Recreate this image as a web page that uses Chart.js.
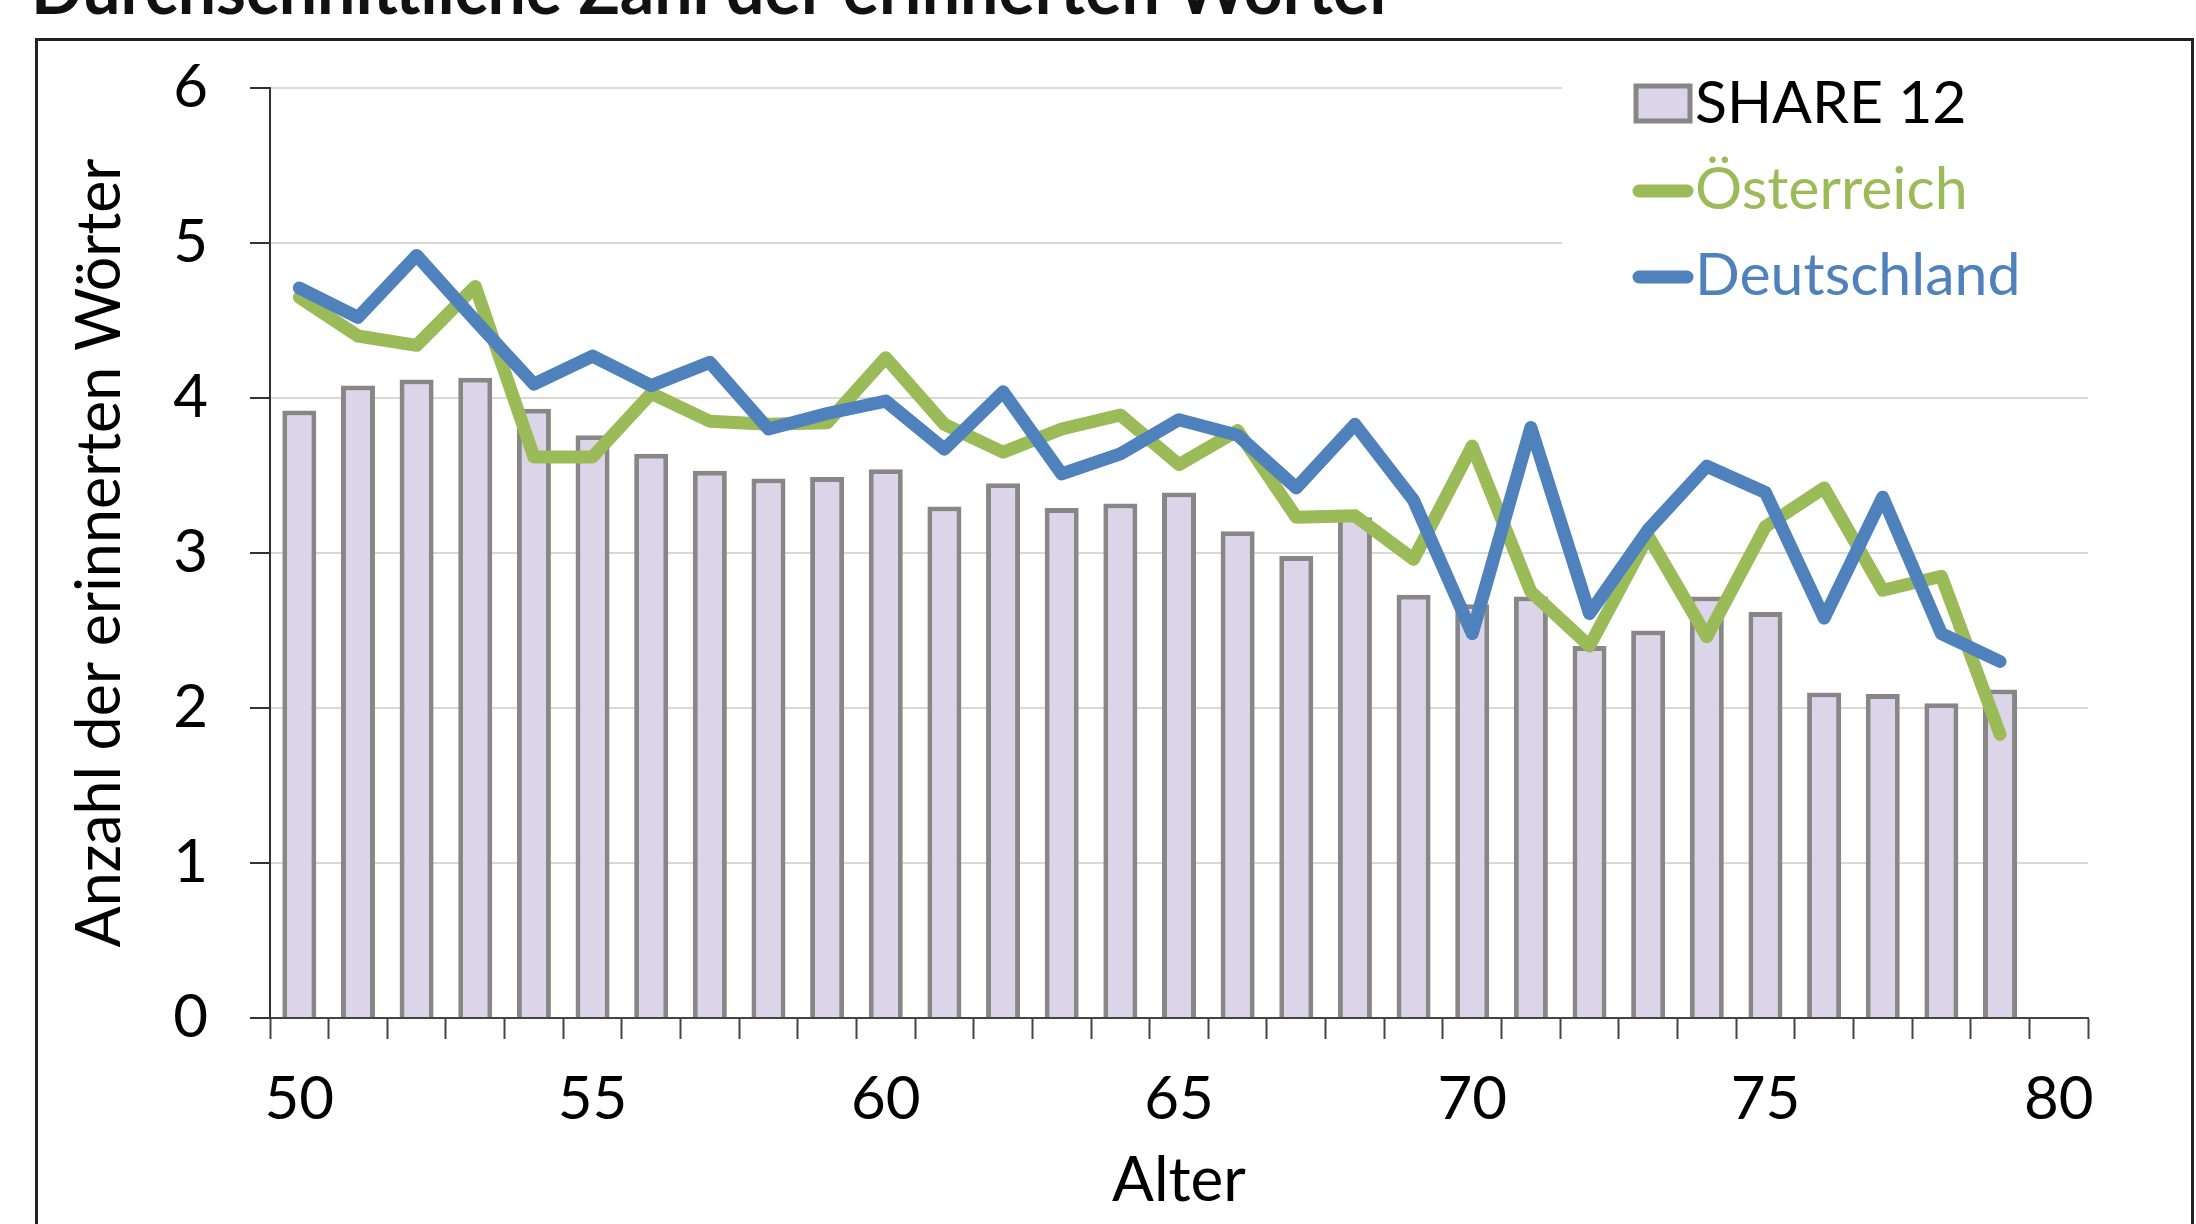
<!DOCTYPE html>
<html>
<head>
<meta charset="utf-8">
<script src="https://cdn.jsdelivr.net/npm/chart.js@4.4.0/dist/chart.umd.min.js"></script>
<style>
  html, body { margin: 0; padding: 0; background: #fff; }
</style>
</head>
<body>
<canvas id="chart" width="2196" height="1224"></canvas>
<script>
const chartTitle = 'Durchschnittliche Zahl der erinnerten Wörter';
const xTitle = 'Alter';
const yTitle = 'Anzahl der erinnerten Wörter';

// ages 50..80, the last one has no data
const ages = ['50', '51', '52', '53', '54', '55', '56', '57', '58', '59',
              '60', '61', '62', '63', '64', '65', '66', '67', '68', '69',
              '70', '71', '72', '73', '74', '75', '76', '77', '78', '79', '80'];

const share12 = [3.92, 4.08, 4.12, 4.13, 3.93, 3.76, 3.64, 3.53, 3.48, 3.49,
                 3.54, 3.30, 3.45, 3.29, 3.32, 3.39, 3.14, 2.98, 3.23, 2.73,
                 2.67, 2.72, 2.40, 2.50, 2.72, 2.62, 2.10, 2.09, 2.03, 2.12, null];

const oesterreich = [4.65, 4.40, 4.34, 4.72, 3.62, 3.62, 4.03, 3.85, 3.83, 3.84,
                     4.26, 3.83, 3.65, 3.80, 3.89, 3.57, 3.79, 3.23, 3.24, 2.96,
                     3.69, 2.75, 2.40, 3.11, 2.46, 3.17, 3.42, 2.76, 2.85, 1.83, null];

const deutschland = [4.71, 4.52, 4.92, 4.50, 4.09, 4.27, 4.08, 4.23, 3.80, 3.90,
                     3.98, 3.67, 4.04, 3.51, 3.64, 3.86, 3.76, 3.42, 3.83, 3.34,
                     2.48, 3.81, 2.61, 3.15, 3.56, 3.39, 2.58, 3.36, 2.48, 2.30, null];

const yTicks = [0, 1, 2, 3, 4, 5, 6];

const FONT = 'Lato';

// white page, outer frame and the (cut off) heading
const frameAndTitle = {
  id: 'frameAndTitle',
  beforeDraw(chart) {
    const ctx = chart.ctx;
    ctx.save();
    ctx.fillStyle = '#fff';
    ctx.fillRect(0, 0, chart.width, chart.height);
    ctx.strokeStyle = '#222';
    ctx.lineWidth = 3;
    ctx.strokeRect(36.5, 39.5, 2156, 1300);
    ctx.fillStyle = '#111';
    ctx.font = 'bold 68px ' + FONT;
    ctx.textBaseline = 'alphabetic';
    ctx.fillText(chartTitle, 31, 14);
    ctx.restore();
  }
};

// legend box in the upper right corner, drawn over the grid
const sideLegend = {
  id: 'sideLegend',
  afterDraw(chart) {
    const ctx = chart.ctx;
    ctx.save();
    ctx.fillStyle = '#fff';
    ctx.fillRect(1562, 60, 560, 260);
    ctx.font = '59px ' + FONT;
    ctx.textBaseline = 'alphabetic';
    chart.data.datasets.forEach((ds, i) => {
      const base = 123 + i * 86;
      if (ds.type === 'bar') {
        ctx.fillStyle = ds.backgroundColor;
        ctx.fillRect(1636, base - 37, 54, 35);
        ctx.strokeStyle = ds.borderColor;
        ctx.lineWidth = 5;
        ctx.strokeRect(1636, base - 37, 54, 35);
        ctx.fillStyle = '#000';
      } else {
        ctx.strokeStyle = ds.borderColor;
        ctx.lineWidth = 13;
        ctx.lineCap = 'round';
        ctx.beginPath();
        ctx.moveTo(1639, base - 18);
        ctx.lineTo(1687, base - 18);
        ctx.stroke();
        ctx.fillStyle = ds.borderColor;
      }
      ctx.fillText(ds.label, 1695, base);
    });
    ctx.restore();
  }
};

new Chart(document.getElementById('chart'), {
  data: {
    labels: ages,
    datasets: [
      {
        type: 'bar',
        label: 'SHARE 12',
        data: share12,
        backgroundColor: '#DCD4E8',
        borderColor: '#878787',
        borderWidth: 5,
        barPercentage: 0.58,
        categoryPercentage: 1,
        order: 3
      },
      {
        type: 'line',
        label: 'Österreich',
        data: oesterreich,
        borderColor: '#9BBB59',
        borderWidth: 13,
        pointRadius: 0,
        tension: 0,
        borderJoinStyle: 'round',
        borderCapStyle: 'round',
        order: 2
      },
      {
        type: 'line',
        label: 'Deutschland',
        data: deutschland,
        borderColor: '#4F81BD',
        borderWidth: 13,
        pointRadius: 0,
        tension: 0,
        borderJoinStyle: 'round',
        borderCapStyle: 'round',
        order: 1
      }
    ]
  },
  options: {
    responsive: false,
    animation: false,
    layout: { padding: { left: 40, right: 108, top: 88, bottom: 0 } },
    plugins: {
      legend: { display: false },
      title: { display: false },
      tooltip: { enabled: false }
    },
    scales: {
      x: {
        type: 'category',
        offset: true,
        grid: { offset: true, drawOnChartArea: false, drawTicks: true, tickLength: 21, tickColor: '#444', tickWidth: 2 },
        border: { color: '#444', width: 2 },
        ticks: {
          autoSkip: false,
          maxRotation: 0,
          padding: 25,
          color: '#000',
          font: { family: FONT, size: 60 },
          callback(v) {
            const l = this.getLabelForValue(v);
            return Number(l) % 5 === 0 ? l : '';
          }
        },
        title: { display: true, text: xTitle, color: '#000', font: { family: FONT, size: 62 }, padding: { top: 0, bottom: 6 } },
        afterFit(scale) { scale.height = 206; }
      },
      y: {
        min: yTicks[0],
        max: yTicks[yTicks.length - 1],
        afterBuildTicks(scale) { scale.ticks = yTicks.map(v => ({ value: v })); },
        ticks: { padding: 42, color: '#000', font: { family: FONT, size: 60 } },
        grid: { color: '#D9D9D9', lineWidth: 2, tickColor: '#333', tickLength: 20, tickWidth: 2 },
        border: { color: '#333', width: 2 },
        title: { display: true, text: yTitle, color: '#000', font: { family: FONT, size: 61 }, padding: { top: 24, bottom: 0 } },
        afterFit(scale) { scale.width = 230; }
      }
    }
  },
  plugins: [frameAndTitle, sideLegend]
});
</script>
</body>
</html>
